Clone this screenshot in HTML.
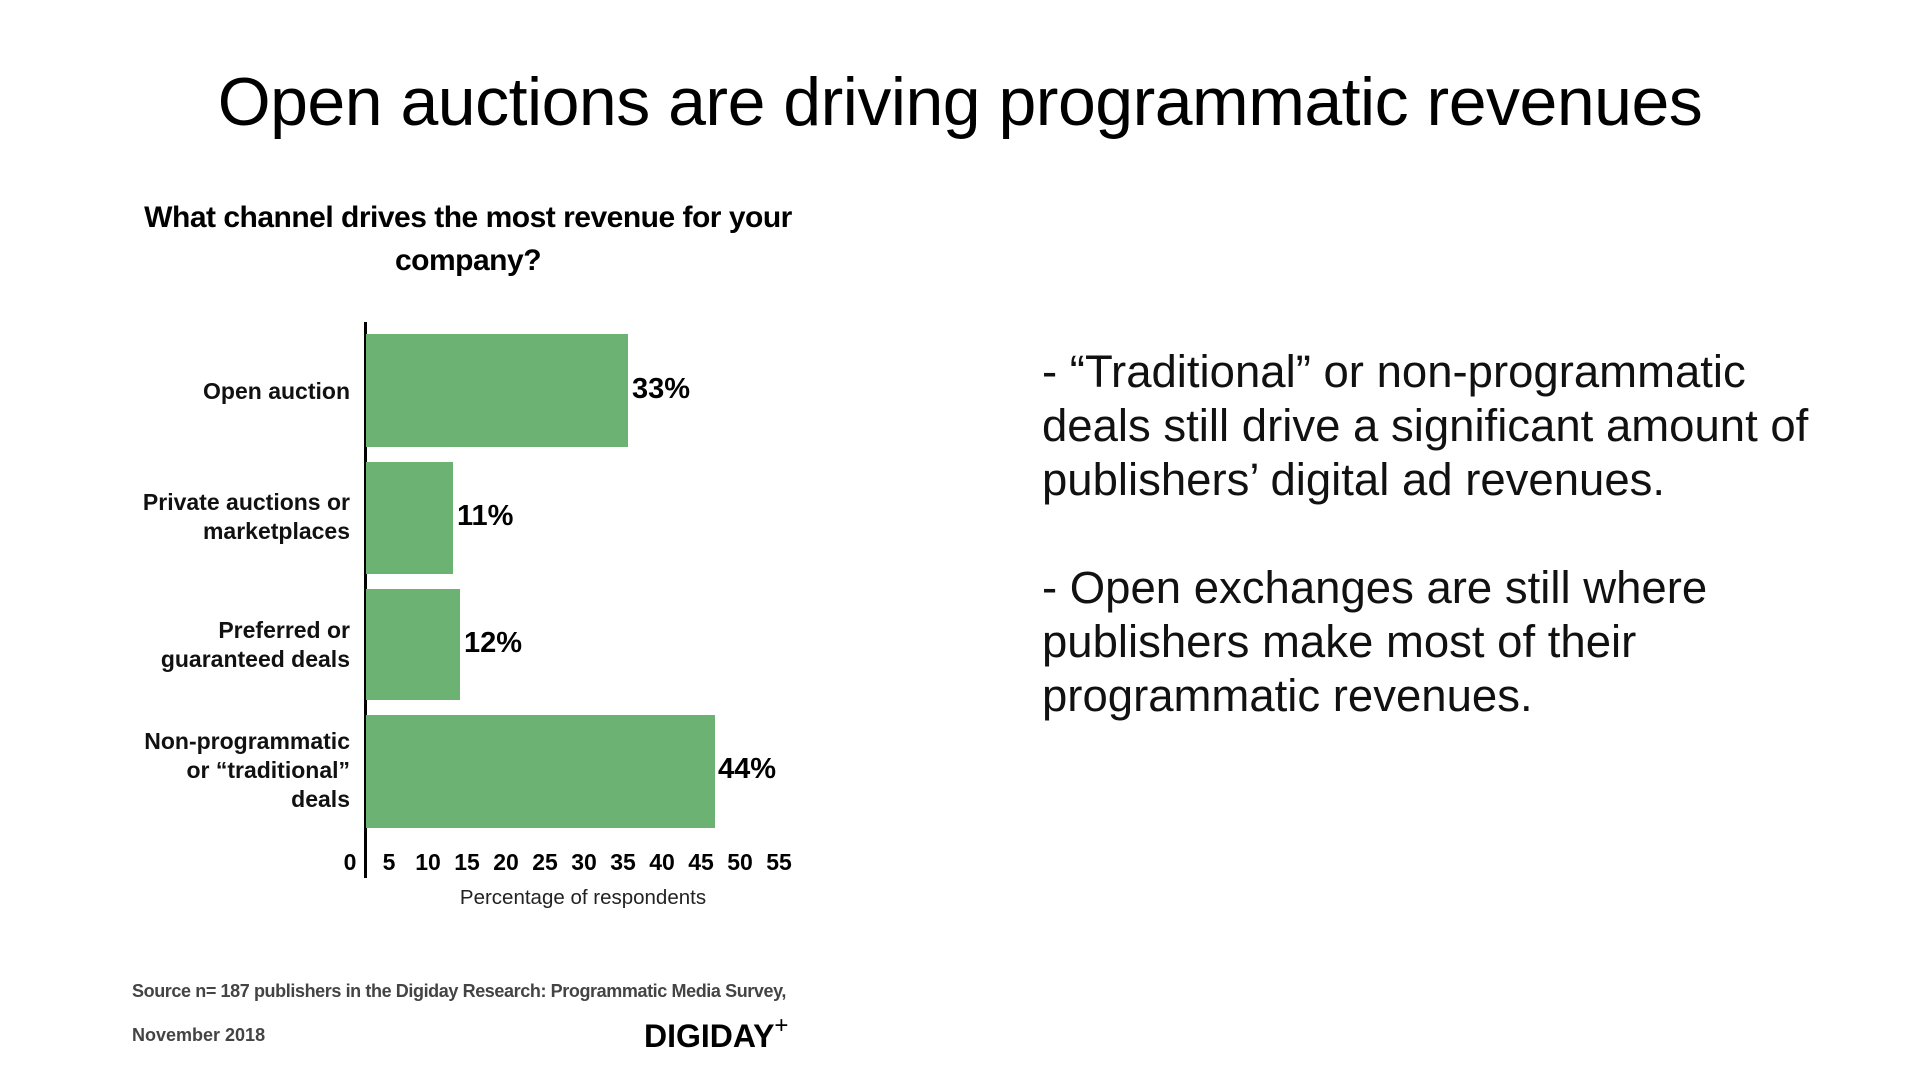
<!DOCTYPE html>
<html><head><meta charset="utf-8"><style>
body{margin:0;width:1920px;height:1080px;background:#fff;position:relative;overflow:hidden;font-family:"Liberation Sans",sans-serif;color:#000}
.a{position:absolute;white-space:nowrap}
.n{font-family:"Liberation Sans Narrow","Liberation Sans",sans-serif}
.lab{right:1570px;text-align:right;font-size:23px;line-height:29px;font-weight:bold;color:#111}
.bar{position:absolute;left:366px;background:#6bb273}
.val{font-size:29px;font-weight:bold;line-height:30px}
.tk{font-size:23px;font-weight:bold;line-height:24px;top:850px;width:40px;text-align:center;margin-left:-20px}
.rt{left:1042px;font-size:45.5px;line-height:54px;color:#111;font-weight:300}
</style></head><body>
<div class="a" style="left:0;width:1920px;text-align:center;top:60px;font-size:68px;line-height:84px;letter-spacing:-0.5px">Open auctions are driving programmatic revenues</div>
<div class="a n" style="left:118px;width:700px;text-align:center;top:196px;font-size:30px;line-height:43px;font-weight:bold;letter-spacing:-0.5px">What channel drives the most revenue for your<br>company?</div>
<div class="a" style="left:364px;top:322px;width:3px;height:556px;background:#000"></div>
<div class="bar" style="top:334px;width:262px;height:113px"></div>
<div class="bar" style="top:462px;width:87px;height:112px"></div>
<div class="bar" style="top:589px;width:94px;height:111px"></div>
<div class="bar" style="top:715px;width:349px;height:113px"></div>
<div class="a val n" style="left:632px;top:374px">33%</div>
<div class="a val n" style="left:457px;top:501px">11%</div>
<div class="a val n" style="left:464px;top:628px">12%</div>
<div class="a val n" style="left:718px;top:754px">44%</div>
<div class="a lab n" style="top:377px">Open auction</div>
<div class="a lab n" style="top:488px">Private auctions or<br>marketplaces</div>
<div class="a lab n" style="top:616px">Preferred or<br>guaranteed deals</div>
<div class="a lab n" style="top:727px">Non-programmatic<br>or “traditional”<br>deals</div>
<div class="a tk n" style="left:350px">0</div>
<div class="a tk n" style="left:389px">5</div>
<div class="a tk n" style="left:428px">10</div>
<div class="a tk n" style="left:467px">15</div>
<div class="a tk n" style="left:506px">20</div>
<div class="a tk n" style="left:545px">25</div>
<div class="a tk n" style="left:584px">30</div>
<div class="a tk n" style="left:623px">35</div>
<div class="a tk n" style="left:662px">40</div>
<div class="a tk n" style="left:701px">45</div>
<div class="a tk n" style="left:740px">50</div>
<div class="a tk n" style="left:779px">55</div>
<div class="a n" style="left:433px;width:300px;text-align:center;top:886px;font-size:20.5px;line-height:24px;color:#222">Percentage of respondents</div>
<div class="a n" style="left:132px;top:980px;font-size:18px;line-height:22px;font-weight:bold;color:#444;letter-spacing:-0.4px">Source n= 187 publishers in the Digiday Research: Programmatic Media Survey,</div>
<div class="a n" style="left:132px;top:1024px;font-size:18px;line-height:22px;font-weight:bold;color:#444">November 2018</div>
<div class="a" style="left:644px;top:1007px;font-size:32px;line-height:38px;font-weight:900">DIGIDAY<span style="font-weight:normal;font-size:24px;vertical-align:14px">+</span></div>
<div class="a rt" style="top:345px">- “Traditional” or non-programmatic<br>deals still drive a significant amount of<br>publishers’ digital ad revenues.</div>
<div class="a rt" style="top:561px">- Open exchanges are still where<br>publishers make most of their<br>programmatic revenues.</div>
</body></html>
